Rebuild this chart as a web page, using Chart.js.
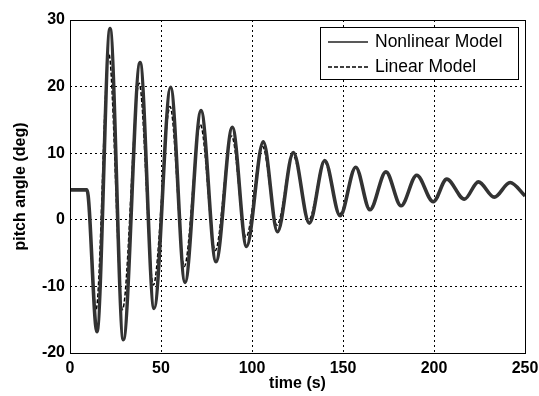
<!DOCTYPE html>
<html>
<head>
<meta charset="utf-8">
<script src="https://cdn.jsdelivr.net/npm/chart.js@4/dist/chart.umd.min.js"></script>
<style>
  html, body { margin: 0; padding: 0; background: #fff; }
  #wrap { width: 539px; height: 396px; position: relative; }
</style>
</head>
<body>
<div id="wrap"><canvas id="grafico"></canvas></div>
<script>
// --- Datos ---
const tiempoNoLineal = [0, 9.3, 14.8, 22, 29.3, 38.5, 46.2, 55.3, 63.2, 72, 80.2, 89.2, 97, 106.2, 114, 122.7, 131.5, 140, 148.4, 157, 164.8, 173.6, 181.9, 190.5, 199.6, 207, 216.7, 224.4, 233.1, 241.8, 250];
const cabeceoNoLineal = [4.5, 4.5, -16.8, 28.7, -18.0, 23.6, -13.3, 19.9, -9.4, 16.4, -6.3, 13.9, -4.0, 11.7, -1.8, 10.1, -0.5, 8.9, 0.6, 7.9, 1.5, 7.2, 2.1, 6.7, 2.7, 6.1, 3.1, 5.7, 3.4, 5.6, 3.6];

const tiempoLineal = [0, 9.3, 14.3, 21.3, 28.8, 38, 45.8, 55, 62.8, 71.6, 79.8, 88.8, 96.7, 105.8, 113.7, 122.5, 131.2, 139.8, 148.2, 156.8, 164.7, 173.5, 181.8, 190.4, 199.5, 207, 216.6, 224.4, 233, 241.8, 250];
const cabeceoLineal = [4.5, 4.5, -13.5, 25, -13.5, 20.5, -9.8, 17, -7, 14.3, -4.6, 12.6, -2.6, 11, -0.8, 9.7, 0, 8.7, 0.9, 7.8, 1.7, 7.1, 2.2, 6.6, 2.8, 6.0, 3.1, 5.7, 3.4, 5.5, 3.6];

const ticksX = [0, 50, 100, 150, 200, 250];
const ticksY = [-20, -10, 0, 10, 20, 30];
const etiquetas = { noLineal: "Nonlinear Model", lineal: "Linear Model" };

// --- Utilidades ---
const fuente = "'Liberation Sans', Arial, sans-serif";
const puntos = (xs, ys) => xs.map((x, i) => ({ x, y: ys[i] }));

// marco del área de trazado
const marco = {
    id: 'marco',
    afterDatasetsDraw(chart) {
        const { ctx, chartArea: a } = chart;
        ctx.save();
        ctx.strokeStyle = '#000';
        ctx.lineWidth = 1;
        ctx.strokeRect(Math.round(a.left) + 0.5, Math.round(a.top) + 0.5, Math.round(a.right - a.left), Math.round(a.bottom - a.top));
        ctx.restore();
    }
};

// leyenda con caja, como la de MATLAB
const leyenda = {
    id: 'leyenda',
    afterDraw(chart) {
        const { ctx } = chart;
        const x0 = 320, y0 = 27, w = 198, h = 52;
        ctx.save();
        ctx.fillStyle = '#fff';
        ctx.fillRect(x0, y0, w, h);
        ctx.strokeStyle = '#000';
        ctx.lineWidth = 1;
        ctx.strokeRect(x0 + 0.5, y0 + 0.5, w, h);

        ctx.beginPath();
        ctx.strokeStyle = '#222';
        ctx.lineWidth = 1.5;
        ctx.moveTo(328, 42); ctx.lineTo(368, 42);
        ctx.stroke();

        ctx.beginPath();
        ctx.setLineDash([4, 2]);
        ctx.strokeStyle = '#000';
        ctx.moveTo(328, 67); ctx.lineTo(368, 67);
        ctx.stroke();
        ctx.setLineDash([]);

        ctx.fillStyle = '#000';
        ctx.font = `17.5px ${fuente}`;
        ctx.textBaseline = 'middle';
        ctx.fillText(etiquetas.noLineal, 375, 42);
        ctx.fillText(etiquetas.lineal, 375, 67);
        ctx.restore();
    }
};

// --- Principal ---
const datosNL = puntos(tiempoNoLineal, cabeceoNoLineal);

new Chart(document.getElementById('grafico'), {
    type: 'line',
    data: {
        datasets: [
            { label: etiquetas.noLineal, data: datosNL, borderColor: '#333', borderWidth: 3.6, pointRadius: 0, cubicInterpolationMode: 'monotone' },
            { label: '_interior', data: datosNL, borderColor: '#c4c4c4', borderWidth: 1.4, pointRadius: 0, cubicInterpolationMode: 'monotone' },
            { label: etiquetas.lineal, data: puntos(tiempoLineal, cabeceoLineal), borderColor: '#000', borderWidth: 1.5, borderDash: [4, 2], pointRadius: 0, cubicInterpolationMode: 'monotone' }
        ]
    },
    options: {
        responsive: true,
        maintainAspectRatio: false,
        animation: false,
        layout: { padding: { top: 20, right: 0, left: 0, bottom: 0 } },
        plugins: { legend: { display: false }, tooltip: { enabled: false } },
        scales: {
            x: {
                type: 'linear', min: 0, max: 250,
                afterBuildTicks: s => { s.ticks = ticksX.map(v => ({ value: v })); },
                afterFit: s => { s.height = 43; s.paddingRight = 14; },
                ticks: { color: '#000', font: { family: fuente, size: 16, weight: 'bold' }, padding: 6, maxRotation: 0 },
                grid: { color: '#000', lineWidth: 1, drawTicks: false },
                border: { display: false, dash: [2, 3] },
                title: { display: true, text: 'time (s)', color: '#000', font: { family: fuente, size: 16, weight: 'bold' }, padding: { top: 0, bottom: 3 } }
            },
            y: {
                min: -20, max: 30,
                afterBuildTicks: s => { s.ticks = ticksY.map(v => ({ value: v })); },
                afterFit: s => { s.width = 70; },
                ticks: { color: '#000', font: { family: fuente, size: 16, weight: 'bold' }, padding: 5 },
                grid: { color: '#000', lineWidth: 1, drawTicks: false },
                border: { display: false, dash: [2, 3] },
                title: { display: true, text: 'pitch angle (deg)', color: '#000', font: { family: fuente, size: 16, weight: 'bold' }, padding: { top: 11, bottom: 0 } }
            }
        }
    },
    plugins: [marco, leyenda]
});
</script>
</body>
</html>
